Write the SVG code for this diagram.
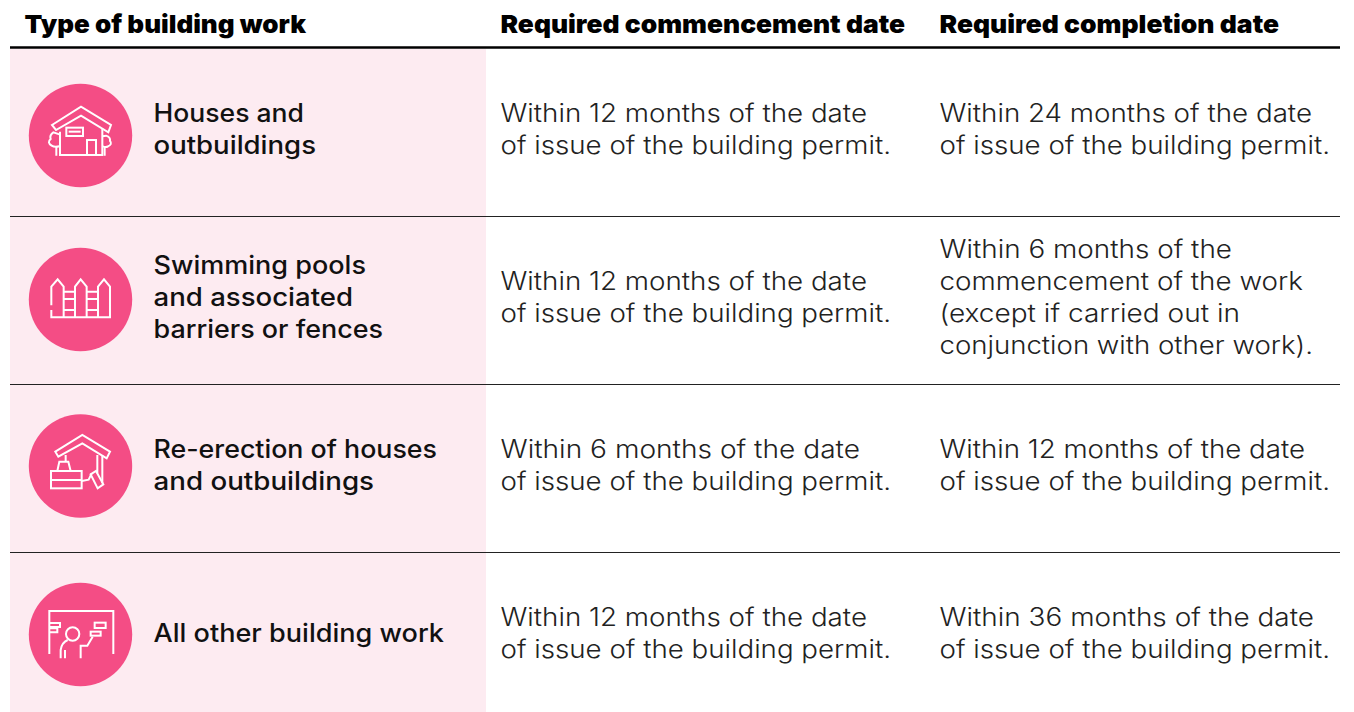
<svg xmlns="http://www.w3.org/2000/svg" width="1354" height="712" viewBox="0 0 1354 712">
<style>
text{font-family:"Inter","Liberation Sans",sans-serif;fill:#111;font-size:25px}
.h{font-weight:900;fill:#000}
.l{font-weight:500}
.b{font-weight:300;fill:#222}
.c{fill:#f44d85}
.i{fill:none;stroke:#fff;stroke-width:6;stroke-linejoin:miter}
.r{stroke:#222;stroke-width:1;fill:none}
</style>
<rect width="1354" height="712" fill="#fff"/>
<rect x="10" y="49" width="476" height="663" fill="#fdebf1"/>
<g id="rules">
<path d="M10 47.500H1340" stroke="#000" stroke-width="2.500" fill="none"/>
<path class="r" d="M10 216.500H1340M10 384.500H1340M10 552.500H1340"/>
</g>
<g id="header">
<text class="h" x="24.500" y="33" textLength="281.500" lengthAdjust="spacingAndGlyphs">Type of building work</text>
<text class="h" x="500.500" y="33" textLength="404.500" lengthAdjust="spacingAndGlyphs">Required commencement date</text>
<text class="h" x="939.500" y="33" textLength="339.500" lengthAdjust="spacingAndGlyphs">Required completion date</text>
</g>
<g id="row-houses">
<circle class="c" cx="80.500" cy="135.500" r="51.700"/>
<g class="i" transform="translate(20 75) scale(.3333)">
<path d="M96 150L183 95L273 150L265 172L183 122L108 165Z"/>
<path d="M120 170V240H247V160"/>
<rect x="139" y="158" width="50" height="25"/><path d="M146 170H182"/>
<path d="M201 240V195H228V240"/>
<path d="M118 178L100 172Q88 180 92 192Q80 202 95 212Q104 218 118 214M109 214V242"/>
<path d="M247 184L258 182Q272 186 270 198Q278 208 264 214Q258 218 248 214M254 214V242"/>
</g>
<text class="l" x="153.500" y="122" textLength="150.500" lengthAdjust="spacingAndGlyphs">Houses and</text>
<text class="l" x="153.500" y="154" textLength="162.500" lengthAdjust="spacingAndGlyphs">outbuildings</text>
<text class="b" x="500.500" y="122" textLength="366.500" lengthAdjust="spacingAndGlyphs">Within 12 months of the date</text>
<text class="b" x="500.500" y="154" textLength="390.500" lengthAdjust="spacingAndGlyphs">of issue of the building permit.</text>
<text class="b" x="939.500" y="122" textLength="372.500" lengthAdjust="spacingAndGlyphs">Within 24 months of the date</text>
<text class="b" x="939.500" y="154" textLength="390.500" lengthAdjust="spacingAndGlyphs">of issue of the building permit.</text>
</g>
<g id="row-pools">
<circle class="c" cx="80.500" cy="299.500" r="51.700"/>
<g class="i" transform="translate(20 240) scale(.3333)">
<path d="M94 196V140L113 118L131 140V232M94 210V232H270V140L252 118L234 140V232"/>
<path d="M165 232V140L182 118L200 140V232"/>
<path d="M131 155H165M131 177H165M131 210H165M200 155H234M200 177H234M200 210H234"/>
</g>
<text class="l" x="153.500" y="274" textLength="212.500" lengthAdjust="spacingAndGlyphs">Swimming pools</text>
<text class="l" x="153.500" y="306" textLength="199.500" lengthAdjust="spacingAndGlyphs">and associated</text>
<text class="l" x="153.500" y="338" textLength="229.500" lengthAdjust="spacingAndGlyphs">barriers or fences</text>
<text class="b" x="500.500" y="290" textLength="366.500" lengthAdjust="spacingAndGlyphs">Within 12 months of the date</text>
<text class="b" x="500.500" y="322" textLength="390.500" lengthAdjust="spacingAndGlyphs">of issue of the building permit.</text>
<text class="b" x="939.500" y="258" textLength="292.500" lengthAdjust="spacingAndGlyphs">Within 6 months of the</text>
<text class="b" x="939.500" y="290" textLength="363.500" lengthAdjust="spacingAndGlyphs">commencement of the work</text>
<text class="b" x="939.500" y="322" textLength="300.500" lengthAdjust="spacingAndGlyphs">(except if carried out in</text>
<text class="b" x="939.500" y="354" textLength="373.500" lengthAdjust="spacingAndGlyphs">conjunction with other work).</text>
</g>
<g id="row-reerection">
<circle class="c" cx="80.500" cy="466" r="51.700"/>
<g class="i" transform="translate(20 405) scale(.3333)">
<path d="M106 140L187 90L270 140L260 160L187 115L115 155Z"/>
<path d="M137 150V170M232 150V205M247 150V235"/>
<path d="M112 198L118 170H145L152 198"/>
<rect x="93" y="198" width="92" height="52"/><path d="M93 225H185"/>
<path d="M185 228L206 224L215 205"/>
<path d="M212 208L228 198L250 238L233 250Z"/>
</g>
<text class="l" x="153.500" y="458" textLength="283.500" lengthAdjust="spacingAndGlyphs">Re-erection of houses</text>
<text class="l" x="153.500" y="490" textLength="220.500" lengthAdjust="spacingAndGlyphs">and outbuildings</text>
<text class="b" x="500.500" y="458" textLength="359.500" lengthAdjust="spacingAndGlyphs">Within 6 months of the date</text>
<text class="b" x="500.500" y="490" textLength="390.500" lengthAdjust="spacingAndGlyphs">of issue of the building permit.</text>
<text class="b" x="939.500" y="458" textLength="365.500" lengthAdjust="spacingAndGlyphs">Within 12 months of the date</text>
<text class="b" x="939.500" y="490" textLength="390.500" lengthAdjust="spacingAndGlyphs">of issue of the building permit.</text>
</g>
<g id="row-other">
<circle class="c" cx="80.500" cy="634.500" r="51.700"/>
<g class="i" transform="translate(20 575) scale(.3333)">
<path d="M88 237V108H280V237"/>
<path d="M90 144H120V156H90M90 160H112V172H90"/>
<rect x="224" y="143" width="33" height="16"/>
<circle cx="158" cy="177" r="20"/>
<path d="M122 250V225Q125 203 143 195M135 250V225M182 250V212H202L218 185"/>
<rect x="212" y="170" width="30" height="12"/>
</g>
<text class="l" x="153.500" y="642" textLength="290.500" lengthAdjust="spacingAndGlyphs">All other building work</text>
<text class="b" x="500.500" y="626" textLength="366.500" lengthAdjust="spacingAndGlyphs">Within 12 months of the date</text>
<text class="b" x="500.500" y="658" textLength="390.500" lengthAdjust="spacingAndGlyphs">of issue of the building permit.</text>
<text class="b" x="939.500" y="626" textLength="374.500" lengthAdjust="spacingAndGlyphs">Within 36 months of the date</text>
<text class="b" x="939.500" y="658" textLength="390.500" lengthAdjust="spacingAndGlyphs">of issue of the building permit.</text>
</g>
</svg>
